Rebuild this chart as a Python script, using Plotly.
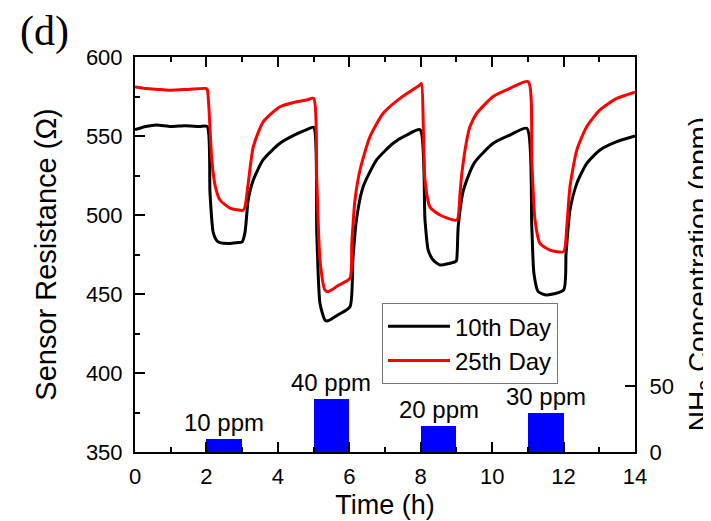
import plotly.graph_objects as go

# ---- data ----
t_10th = [0.0, 0.3, 0.6, 1.0, 1.4, 1.8, 2.02, 2.1, 2.19, 2.3, 2.38, 2.66, 2.85, 3.0,
          3.08, 3.17, 3.31, 3.59, 4.06, 4.5, 4.81, 5.0,
          5.09, 5.18, 5.32, 5.4, 5.7, 6.02,
          6.1, 6.2, 6.39, 6.77, 7.23, 7.6, 7.98,
          8.12, 8.21, 8.35, 8.54, 8.96, 9.0,
          9.05, 9.2, 9.5, 10.03, 10.5, 10.97,
          11.11, 11.17, 11.29, 11.53, 12.0,
          12.07, 12.18, 12.37, 12.65, 13.02, 13.49, 14.0]
r_10th = [554.0, 556.0, 557.0, 556.0, 556.5, 556.0, 556.0, 514.0, 489.0, 483.5, 482.5, 482.0, 482.5, 483.0,
          489.0, 509.5, 522.0, 535.0, 545.4, 551.0, 554.0, 555.5,
          488.0, 444.0, 433.5, 433.0, 437.0, 442.0,
          471.5, 497.0, 518.0, 535.0, 545.4, 550.5, 554.0,
          496.8, 477.8, 471.5, 468.4, 470.4, 471.0,
          492.6, 516.0, 533.0, 545.4, 550.6, 554.9,
          492.6, 463.0, 451.5, 449.4, 452.5,
          475.8, 503.2, 520.0, 532.7, 541.1, 546.4, 550.0]

t_25th = [0.0, 0.3, 0.7, 1.0, 1.5, 2.0,
          2.03, 2.15, 2.25, 2.38, 2.66, 3.03,
          3.08, 3.17, 3.31, 3.59, 4.06, 4.5, 4.81, 5.0,
          5.09, 5.18, 5.32, 5.41, 5.7, 6.02,
          6.07, 6.16, 6.3, 6.58, 6.95, 7.42, 7.98, 8.02,
          8.12, 8.26, 8.54, 9.01,
          9.1, 9.15, 9.29, 9.38, 9.57, 10.03, 10.5, 11.01,
          11.11, 11.2, 11.34, 11.62, 12.0,
          12.09, 12.18, 12.37, 12.65, 13.02, 13.49, 13.95, 14.0]
r_25th = [581.0, 580.0, 579.5, 579.0, 579.5, 580.0,
          579.0, 534.8, 518.0, 509.5, 504.4, 503.0,
          505.0, 520.0, 543.0, 559.0, 568.5, 571.5, 572.8, 573.9,
          522.0, 471.5, 452.5, 451.5, 455.5, 460.0,
          482.0, 509.5, 528.5, 549.6, 564.4, 573.8, 582.3, 583.3,
          522.0, 505.0, 500.0, 496.8,
          513.7, 526.0, 547.5, 556.0, 564.4, 575.0, 580.2, 584.4,
          534.8, 496.8, 482.0, 477.8, 476.8,
          492.6, 518.0, 541.1, 556.0, 566.5, 573.8, 577.4, 577.7]

pulse_center = [2.5, 5.5, 8.5, 11.5]
pulse_conc = [10, 40, 20, 30]
pulse_labels = ["10 ppm", "40 ppm", "20 ppm", "30 ppm"]

FONT = "Liberation Sans, Arial, sans-serif"

fig = go.Figure()

fig.add_trace(go.Bar(
    x=pulse_center, y=pulse_conc, width=1, yaxis="y2",
    marker=dict(color="#0000FF", line=dict(width=0)), showlegend=False,
))

fig.add_trace(go.Scatter(
    x=t_10th, y=r_10th, mode="lines", name="10th Day",
    line=dict(color="black", width=3, shape="spline", smoothing=0.6),
))
fig.add_trace(go.Scatter(
    x=t_25th, y=r_25th, mode="lines", name="25th Day",
    line=dict(color="#FF0000", width=3, shape="spline", smoothing=0.6),
))

annotations = []
for xc, c, lab in zip(pulse_center, pulse_conc, pulse_labels):
    annotations.append(dict(
        x=xc, y=c, xref="x", yref="y2", text=lab, showarrow=False,
        yanchor="bottom", yshift=1, font=dict(family=FONT, size=24, color="black"),
    ))

annotations.append(dict(
    x=1.13, y=0.45, xref="paper", yref="paper",
    text="NH<sub>3</sub> Concentration (ppm)", textangle=-90, showarrow=False,
    xanchor="center", yanchor="middle", font=dict(family=FONT, size=28, color="black"),
))
annotations.append(dict(
    x=-0.182, y=1.065, xref="paper", yref="paper", text="(d)", showarrow=False,
    xanchor="center", yanchor="middle",
    font=dict(family="Liberation Serif, Times New Roman, serif", size=42, color="black"),
))

fig.update_layout(
    width=703, height=513,
    margin=dict(l=127, r=76, t=49, b=69, autoexpand=False),
    paper_bgcolor="white", plot_bgcolor="white",
    font=dict(family=FONT, size=22, color="black"),
    bargap=0,
    xaxis=dict(
        range=[0, 14], tickvals=[0, 2, 4, 6, 8, 10, 12, 14],
        ticks="inside", ticklen=10, tickwidth=2, tickcolor="black",
        minor=dict(dtick=1, tick0=0, ticks="inside", ticklen=5, tickwidth=2, tickcolor="black"),
        showline=True, linecolor="black", linewidth=2, mirror="ticks",
        showgrid=False, zeroline=False, automargin=False,
        title=dict(text="Time (h)", font=dict(family=FONT, size=27), standoff=7),
        tickfont=dict(family=FONT, size=22),
        ticklabelstandoff=4,
    ),
    yaxis=dict(
        range=[350, 600], tickvals=[350, 400, 450, 500, 550, 600],
        ticks="inside", ticklen=10, tickwidth=2, tickcolor="black",
        minor=dict(dtick=25, tick0=350, ticks="inside", ticklen=5, tickwidth=2, tickcolor="black"),
        showline=True, linecolor="black", linewidth=2, mirror=True,
        showgrid=False, zeroline=False, automargin=False,
        title=dict(text="Sensor Resistance (Ω)", font=dict(family=FONT, size=29), standoff=21),
        tickfont=dict(family=FONT, size=22),
        ticklabelstandoff=6,
    ),
    yaxis2=dict(
        overlaying="y", side="right", range=[0, 300], tickvals=[0, 50],
        ticks="inside", ticklen=10, tickwidth=2, tickcolor="black",
        showline=True, linecolor="black", linewidth=2,
        showgrid=False, zeroline=False, automargin=False,
        tickfont=dict(family=FONT, size=22),
        ticklabelstandoff=8,
    ),
    legend=dict(
        x=0.494, y=0.377, xanchor="left", yanchor="top",
        bgcolor="white", bordercolor="#777777", borderwidth=1,
        font=dict(family=FONT, size=24), tracegroupgap=0, itemwidth=62,
    ),
    annotations=annotations,
    showlegend=True,
)

fig.write_html("out.html")
